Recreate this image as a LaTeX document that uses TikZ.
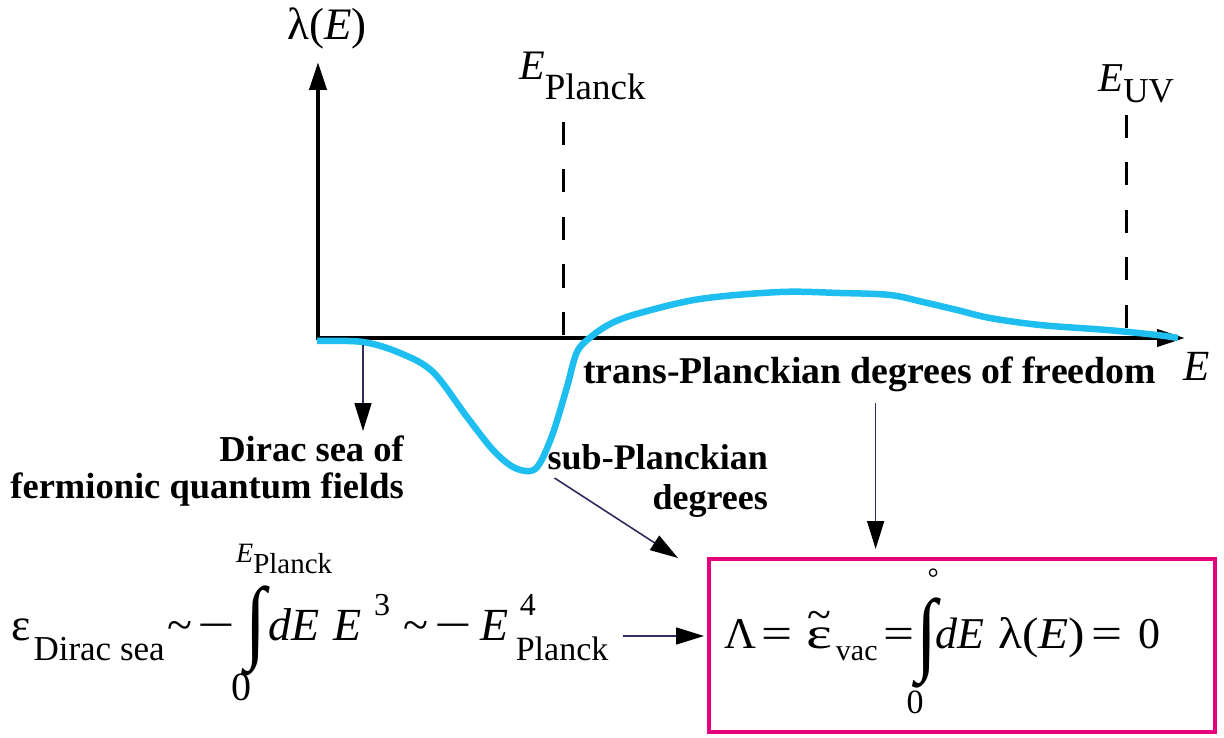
\documentclass[tikz,border=0pt]{standalone}
\usepackage{graphicx}
\usepackage{fontspec}
\setmainfont{Liberation Serif}
\usepackage{tikz}
\usetikzlibrary{arrows.meta,positioning}

\definecolor{curveblue}{RGB}{30,190,240}
\definecolor{boxpink}{RGB}{230,0,126}
\definecolor{pointerblue}{RGB}{46,45,94}

\newcommand{\dropped}[3]{\raisebox{-#1pt}{\fontsize{#2}{#2}\selectfont #3}}
\newcommand{\lifted}[3]{\raisebox{#1pt}{\fontsize{#2}{#2}\selectfont #3}}
\newcommand{\tilded}[1]{\ooalign{#1\cr\hidewidth\raisebox{0.42em}{\textasciitilde}\hidewidth\cr}}
\newcommand{\wide}[2][1.25]{\scalebox{#1}[1]{#2}}
% tall integral sign: #1 shift, #2 lower limit, #3 upper limit
\newcommand{\tallint}[3]{\rlap{#2}\rlap{#3}\raisebox{-#1pt}{\fontsize{40}{40}\selectfont\scalebox{1.9}[2.3]{∫}}}

\tikzset{
  axis/.style={line width=4pt, -{Triangle[length=28pt,width=17pt]}},
  cutoff/.style={line width=3pt, dash pattern=on 23pt off 24.5pt},
  pointer/.style={pointerblue, line width=1.6pt, -{Triangle[length=28pt,width=17pt,color=black]}},
  tag/.style={font=\fontsize{36.5}{37}\selectfont\bfseries, inner sep=0pt, align=right},
  formula/.style={font=\fontsize{46}{46}\selectfont, inner sep=0pt},
}

\begin{document}
\begin{tikzpicture}[x=1pt,y=-1pt]
\useasboundingbox (0,0) rectangle (1224,738);

% axes
\coordinate (origin) at (318,338);
\coordinate (ytip) at (318,62);
\coordinate (xtip) at (1185,338);
\draw[axis] (318,340) -- (ytip);
\draw[axis] (316,338) -- (xtip);
\node[anchor=base, font=\fontsize{45}{45}\selectfont, inner sep=0pt] (lambdalabel) at (327,40) {λ(\textit{E})};
\node[anchor=base, font=\fontsize{43}{43}\selectfont, inner sep=0pt] (elabel) at (1197,380) {\textit{E}};

% cutoffs
\node[anchor=base west, font=\fontsize{42}{42}\selectfont, inner sep=0pt] (planck) at (519,80) {\textit{E}\dropped{20}{37}{Planck}};
\node[anchor=base west, font=\fontsize{41}{41}\selectfont, inner sep=0pt] (uv) at (1098,92) {\textit{E}\dropped{11}{35}{UV}};
\draw[cutoff] (563,122) -- (563,338);
\draw[cutoff] (1126,115) -- (1126,330);

% lambda(E)
\draw[curveblue, line width=6.5pt, line join=round] plot[smooth, tension=0.55] coordinates {
  (317,341) (363,342) (400,353) (433,372) (467,417) (493,450) (513,467)
  (530,471) (540,463) (553,433) (567,387) (577,352) (592,336) (612,323)
  (640,313) (700,299) (780,292) (840,293) (890,295) (923,302) (957,310)
  (990,318) (1040,325) (1107,330) (1157,335) (1178,338)};

% labels
\node[tag, anchor=north east] (diraclabel) at (404,436) {Dirac sea of\\fermionic quantum fields};
\node[tag, anchor=north east, font=\fontsize{36}{40}\selectfont\bfseries] (sublabel) at (768,444) {sub-Planckian\\degrees};
\node[tag, anchor=base west, font=\fontsize{37.8}{38}\selectfont\bfseries] (translabel) at (583,383) {trans-Planckian degrees of freedom};

% formulas
\node[formula, anchor=base west] (diracsea) at (11,640)
  {ε\hspace{3pt}\dropped{20}{35}{Dirac sea}\hspace{3pt}\textasciitilde\hspace{5pt}\wide[1.45]{−}\hspace{10pt}%
   \tallint{11}{\hspace{-14pt}\raisebox{-60pt}{\fontsize{40}{40}\selectfont 0}}{\hspace{-9pt}\raisebox{78pt}{\fontsize{28}{28}\selectfont\textit{E}\dropped{11}{29}{Planck}}}%
   \hspace{2pt}\textit{dE}\hspace{14pt}\textit{E}\hspace{13pt}\lifted{25}{32}{3}\hspace{13pt}\textasciitilde\hspace{6pt}\wide[1.45]{−}\hspace{9pt}%
   \textit{E}\hspace{7pt}\rlap{\hspace{4pt}\lifted{25}{32}{4}}\dropped{20}{34}{Planck}};
\node[draw=boxpink, line width=4pt, minimum width=506pt, minimum height=173pt, inner sep=0pt] (vacbox) at (962,645.5) {};
\node[formula, font=\fontsize{44}{44}\selectfont, anchor=base west] (vacformula) at (724,648)
  {Λ\hspace{5pt}\wide{=}\hspace{14pt}\tilded{\scalebox{1.4}[1]{ε}}\hspace{4pt}\dropped{12}{30}{vac}\hspace{6pt}\wide{=}\hspace{2pt}%
   \tallint{15}{\hspace{-10pt}\raisebox{-65pt}{\fontsize{34}{34}\selectfont 0}}{\hspace{11pt}\raisebox{61pt}{\fontsize{28}{28}\selectfont °}}%
   \hspace{-2pt}\textit{dE}\hspace{14pt}\wide[1.12]{λ(\textit{E})}\hspace{6pt}\wide{=}\hspace{16pt}0};

% pointers
\coordinate (diracfoot) at (363,345);
\draw[pointer, shorten >=5pt] (diracfoot) -- (diracfoot |- diraclabel.north);
\draw[pointer] ([shift={(7,34)}]sublabel.north west) -- ([shift={(-29,1)}]vacbox.north west);
\coordinate (transfoot) at ([shift={(6,11)}]translabel.south);
\draw[pointer, shorten >=8pt] (transfoot) -- (transfoot |- vacbox.north);
\coordinate (seaout) at ([shift={(14,-4)}]diracsea.base east);
\draw[pointer, shorten >=3pt] (seaout) -- (seaout -| vacbox.west);
\end{tikzpicture}
\end{document}
